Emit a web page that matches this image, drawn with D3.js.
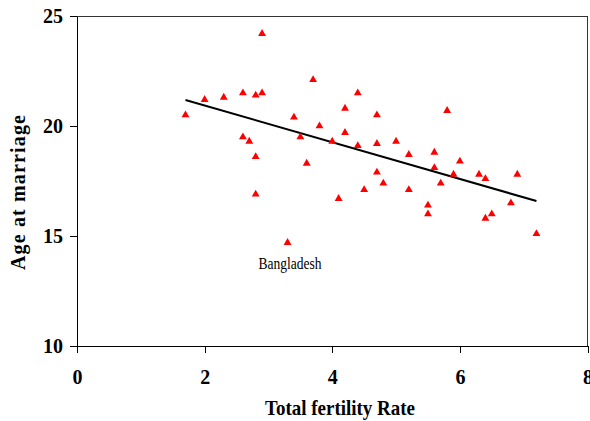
<!DOCTYPE html>
<html>
<head>
<meta charset="utf-8">
<script src="https://cdn.jsdelivr.net/npm/d3@7"></script>
<style>
    body { margin: 0; background: #fff; }
    #chart { width: 590px; height: 421px; }
    text { font-family: "Liberation Serif", "Times New Roman", serif; fill: #000; }
</style>
</head>
<body>
<div id="chart"></div>
<script>
//Datos
const tfr = [1.7, 2.0, 2.3, 2.6, 2.8, 2.9, 2.9, 2.6, 2.7, 2.8, 2.8, 3.3, 3.4, 3.5, 3.6, 3.7,
    3.8, 4.0, 4.1, 4.2, 4.2, 4.4, 4.4, 4.5, 4.7, 4.7, 4.7, 4.8, 5.0, 5.2, 5.2, 5.5, 5.5,
    5.6, 5.6, 5.7, 5.8, 5.9, 6.0, 6.3, 6.4, 6.4, 6.5, 6.8, 6.9, 7.2];
const ageMarriage = [20.5, 21.2, 21.3, 21.5, 21.4, 21.5, 24.2, 19.5, 19.3, 18.6, 16.9, 14.7, 20.4, 19.5, 18.3, 22.1,
    20.0, 19.3, 16.7, 20.8, 19.7, 21.5, 19.1, 17.1, 20.5, 19.2, 17.9, 17.4, 19.3, 18.7, 17.1, 16.4, 16.0,
    18.8, 18.1, 17.4, 20.7, 17.8, 18.4, 17.8, 17.6, 15.8, 16.0, 16.5, 17.8, 15.1];
const trendX = [1.7, 7.2];
const trendY = [21.18, 16.59];
const xTicks = [0, 2, 4, 6, 8];
const yTicks = [10, 15, 20, 25];
const pointLabel = { name: 'Bangladesh', x: 3.3, y: 14.7 };

let margin = {top: 16, right: 2, bottom: 75, left: 77},
    width = 590 - margin.left - margin.right,
    height = 421 - margin.top - margin.bottom;

let svg = d3.select("#chart")
    .append("svg")
        .attr("width", 590)
        .attr("height", 421)
    .append("g")
        .attr("transform", "translate(" + margin.left + "," + margin.top + ")");

let x = d3.scaleLinear()
    .domain([0, 8])
    .range([0, width - 0.5]);

let y = d3.scaleLinear()
    .domain([10, 25])
    .range([height, 0]);

//Borde del área de trazado (arriba y derecha)
svg.append("path")
    .attr("d", "M0," + y(25) + "H" + x(8) + "V" + y(10))
    .attr("fill", "none")
    .attr("stroke", "#333")
    .attr("stroke-width", 1)
    .attr("shape-rendering", "crispEdges");

//Ejes
let xAxis = svg.append("g")
    .attr("transform", "translate(0," + height + ")")
    .call(d3.axisBottom(x).tickValues(xTicks).tickSize(7).tickSizeOuter(0).tickPadding(17));

let yAxis = svg.append("g")
    .call(d3.axisLeft(y).tickValues(yTicks).tickSize(7).tickSizeOuter(0).tickPadding(7));

[xAxis, yAxis].forEach(function(a) {
    a.selectAll("path, line")
        .attr("stroke", "#000")
        .attr("shape-rendering", "crispEdges");
    a.selectAll("text")
        .style("font-family", '"Liberation Serif", "Times New Roman", serif')
        .style("font-weight", "bold")
        .style("font-size", "20px")
        .attr("fill", "#000");
});

//Línea de tendencia
svg.append("path")
    .datum(trendX.map(function(d, i) { return [d, trendY[i]]; }))
    .attr("fill", "none")
    .attr("stroke", "#000")
    .attr("stroke-width", 2)
    .attr("d", d3.line()
        .x(function(d) { return x(d[0]); })
        .y(function(d) { return y(d[1]); }));

//Puntos
svg.selectAll("points")
    .data(tfr.map(function(d, i) { return {x: d, y: ageMarriage[i]}; }))
    .enter()
    .append("path")
    .attr("d", d3.symbol().type(d3.symbolTriangle).size(27))
    .attr("transform", function(d) { return "translate(" + x(d.x) + "," + y(d.y) + ")"; })
    .attr("fill", "#FF0000");

//Etiqueta
svg.append("text")
    .attr("x", x(pointLabel.x) - 29)
    .attr("y", y(pointLabel.y) + 26)
    .attr("textLength", 63)
    .attr("lengthAdjust", "spacingAndGlyphs")
    .style("font-size", "17px")
    .text(pointLabel.name);

//Títulos de ejes
svg.append("text")
    .attr("x", 265 - margin.left + 75)
    .attr("y", 415 - margin.top)
    .attr("text-anchor", "middle")
    .attr("textLength", 150)
    .attr("lengthAdjust", "spacingAndGlyphs")
    .style("font-size", "21px")
    .style("font-weight", "bold")
    .text("Total fertility Rate");

svg.append("text")
    .attr("transform", "translate(" + (25 - margin.left) + "," + (192.5 - margin.top) + ") rotate(-90)")
    .attr("text-anchor", "middle")
    .attr("textLength", 155)
    .attr("lengthAdjust", "spacing")
    .style("font-size", "20px")
    .style("font-weight", "bold")
    .text("Age at marriage");
</script>
</body>
</html>
